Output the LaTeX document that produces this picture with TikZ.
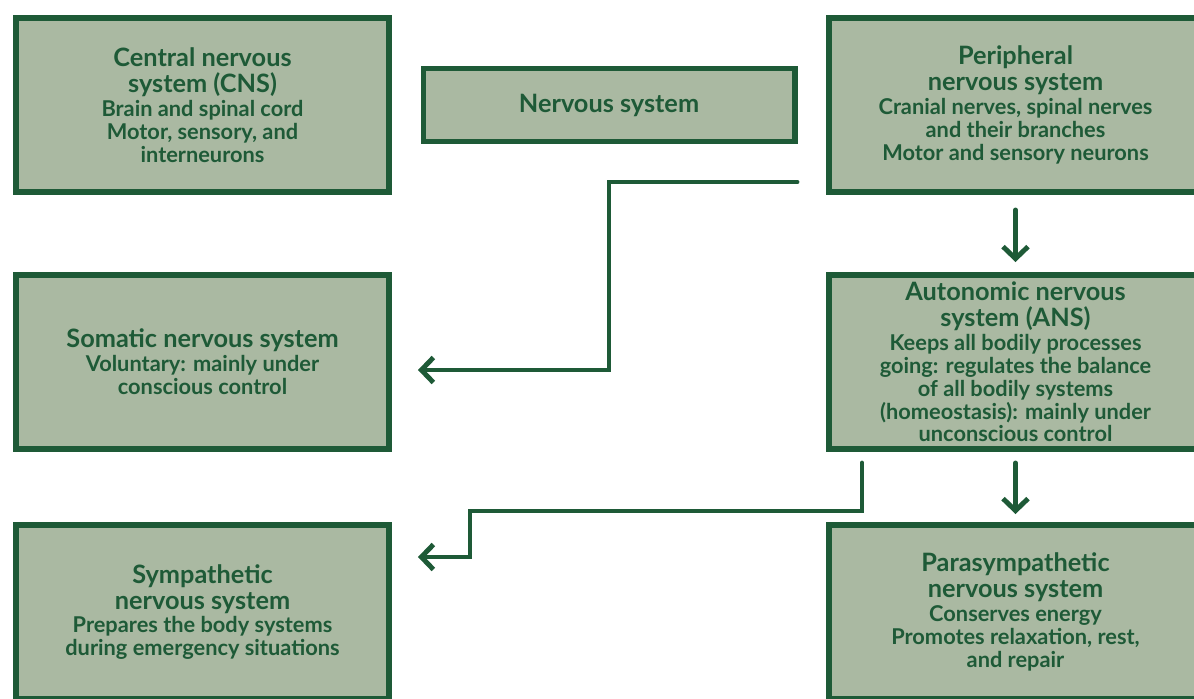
\documentclass[tikz,border=0pt]{standalone}
\usepackage{fontspec}
\setmainfont{Lato}
\usetikzlibrary{positioning,arrows.meta}
\definecolor{nsgreen}{HTML}{1E5A37}
\definecolor{nsfill}{HTML}{AAB9A2}
\newcommand{\boxhead}[1]{{\fontsize{14.4}{15}\selectfont #1}}

\begin{document}
\begin{tikzpicture}[node distance=5.14cm and 8.13cm,on grid,
  sysbox/.style={draw=nsgreen,fill=nsfill,line width=3.4pt,inner sep=0.5pt,
    minimum width=7.46cm,minimum height=3.48cm,align=center,
    text=nsgreen,font=\bfseries\fontsize{12.4}{13}\selectfont},
  link/.style={draw=nsgreen,line width=2.8pt,line cap=round,
    -{Straight Barb[length=2.4mm,width=5mm]}}]
  \useasboundingbox (0,0) rectangle (23.88,-13.96);
  \path
  node[sysbox] (cns) at (4.05,-2.1)
  {
    \boxhead{Central nervous}\\[1.8pt]
    \boxhead{system (CNS)}\\[0.6pt]
    Brain and spinal cord\\
    Motor, sensory, and\\
    interneurons
  }
  node[sysbox,right=of cns,minimum width=7.42cm,minimum height=1.46cm] (nsys)
  {\boxhead{Nervous system}}
  node[sysbox,right=of nsys] (pns)
  {
    \boxhead{Peripheral}\\[1.8pt]
    \boxhead{nervous system}\\[0.6pt]
    Cranial nerves, spinal nerves\\
    and their branches\\
    Motor and sensory neurons
  }
  node[sysbox,below=of cns] (sns)
  {
    \boxhead{Somatic nervous system}\\[0.6pt]
    Voluntary: mainly under\\
    conscious control
  }
  node[sysbox,below=of pns] (ans)
  {
    \boxhead{Autonomic nervous}\\[1.8pt]
    \boxhead{system (ANS)}\\[0.6pt]
    Keeps all bodily processes\\
    going: regulates the balance\\
    of all bodily systems\\
    (homeostasis): mainly under\\
    unconscious control
  }
  node[sysbox,below=5cm of sns] (sym)
  {
    \boxhead{Sympathetic}\\[1.8pt]
    \boxhead{nervous system}\\[0.6pt]
    Prepares the body systems\\
    during emergency situations
  }
  node[sysbox,below=5cm of ans] (psy)
  {
    \boxhead{Parasympathetic}\\[1.8pt]
    \boxhead{nervous system}\\[0.6pt]
    Conserves energy\\
    Promotes relaxation, rest,\\
    and repair
  }
  ;
  % free ends of the branch lines
  \coordinate (p_out) at ([xshift=-0.58cm,yshift=0.26cm]pns.south west);
  \coordinate (s_in) at ([xshift=0.52cm,yshift=-0.16cm]sns.east);
  \coordinate (a_out) at ([xshift=0.72cm,yshift=-0.22cm]ans.south west);
  \coordinate (y_in) at ([xshift=0.52cm,yshift=1.1cm]sym.east);

  \path[link]
  (pns) edge[shorten <=0.3cm,shorten >=0.2cm] (ans)
  (ans) edge[shorten <=0.22cm,shorten >=0.16cm] (psy)
  ;
  \draw[link] (p_out) -- (p_out -| nsys.south) |- (s_in);
  \draw[link] (a_out) -- ++(0,-0.96) -| ([xshift=1.04cm]y_in) -- (y_in);
\end{tikzpicture}
\end{document}
